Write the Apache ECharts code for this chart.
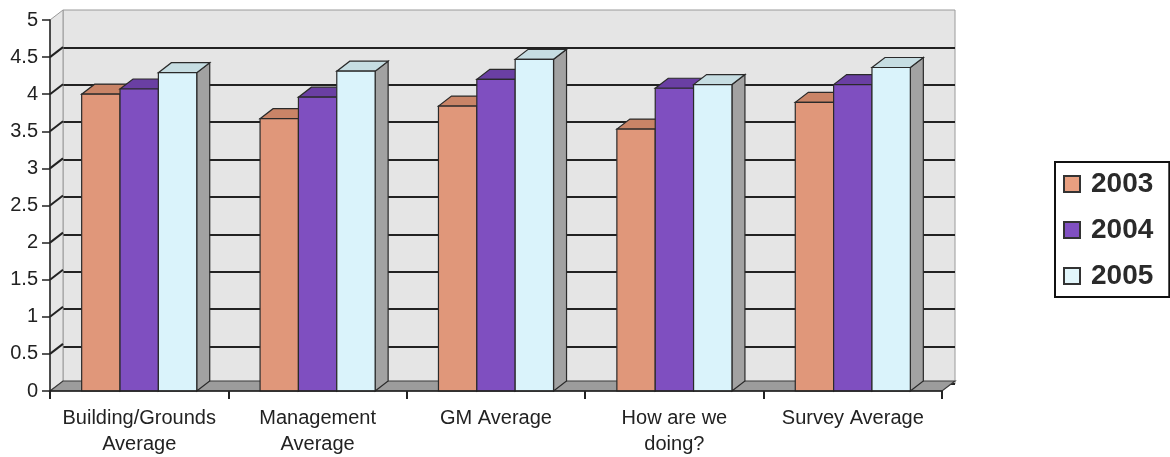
<!DOCTYPE html>
<html>
<head>
<meta charset="utf-8">
<script src="https://cdn.jsdelivr.net/npm/echarts@6.0.0/dist/echarts.min.js"></script>
<style>
  html, body { margin: 0; padding: 0; background: #fff; }
  #chart { width: 1170px; height: 457px; }
</style>
</head>
<body>
<div id="chart"></div>
<script>
// data
const categories = ['Building/Grounds\nAverage', 'Management\nAverage', 'GM Average', 'How are we\ndoing?', 'Survey Average'];
const years = ['2003', '2004', '2005'];
const values2003 = [4.0, 3.67, 3.84, 3.53, 3.89];
const values2004 = [4.07, 3.96, 4.2, 4.08, 4.13];
const values2005 = [4.29, 4.31, 4.47, 4.13, 4.36];
const yTicks = [0, 0.5, 1, 1.5, 2, 2.5, 3, 3.5, 4, 4.5, 5];

// 3d depth offset
const DX = 13;
const DY = -10;

const faces = [
  { front: '#e0977a', top: '#c98467', side: '#b77158', legend: '#e89f80' },
  { front: '#7f4fc0', top: '#6a3fa3', side: '#5a3290', legend: '#8150c2' },
  { front: '#daf3fb', top: '#c6dde2', side: '#a2a2a2', legend: '#e2f6fb' }
];

const seriesValues = [values2003, values2004, values2005];

function barRender(si) {
  return function (params, api) {
    const top = api.coord([api.value(0), api.value(1)]);
    const base = api.coord([api.value(0), 0]);
    const catW = api.size([1, 0])[0];
    const bw = catW * 0.215;
    const x0 = top[0] - 1.5 * bw + si * bw;
    const x1 = x0 + bw;
    const yt = top[1], yb = base[1];
    const f = faces[si];
    const ln = { stroke: '#2a2a2a', lineWidth: 1.2 };
    return {
      type: 'group',
      children: [
        { type: 'polygon', shape: { points: [[x1, yb], [x1, yt], [x1 + DX, yt + DY], [x1 + DX, yb + DY]] },
          style: Object.assign({ fill: f.side }, ln) },
        { type: 'polygon', shape: { points: [[x0, yt], [x1, yt], [x1 + DX, yt + DY], [x0 + DX, yt + DY]] },
          style: Object.assign({ fill: f.top }, ln) },
        { type: 'rect', shape: { x: x0, y: yt, width: bw, height: yb - yt },
          style: Object.assign({ fill: f.front }, ln) }
      ]
    };
  };
}

// side wall + floor, drawn from the front axis scale
function wallRender(params, api) {
  const v = api.value(1);
  const catW = api.size([1, 0])[0];
  const p = api.coord([0, v]);
  const xl = p[0] - catW / 2;
  const children = [];
  if (params.dataIndex === 0) {
    const b = api.coord([0, 0]);
    const t = api.coord([0, yTicks[yTicks.length - 1]]);
    const xr = api.coord([categories.length - 1, 0])[0] + catW / 2;
    children.push({ type: 'polygon', z2: 0,
      shape: { points: [[xl, b[1]], [xl, t[1]], [xl + DX, t[1] + DY], [xl + DX, b[1] + DY]] },
      style: { fill: '#e6e6e6', stroke: '#9a9a9a', lineWidth: 1 } });
    children.push({ type: 'polygon', z2: 5,
      shape: { points: [[xl, b[1]], [xr, b[1]], [xr + DX, b[1] + DY], [xl + DX, b[1] + DY]] },
      style: { fill: '#9c9c9c', stroke: '#3a3a3a', lineWidth: 1.2 } });
  }
  if (v > 0 && v < yTicks[yTicks.length - 1]) {
    children.push({ type: 'line', z2: 2,
      shape: { x1: xl, y1: p[1], x2: xl + DX, y2: p[1] + DY },
      style: { stroke: '#222', lineWidth: 2 } });
  }
  return { type: 'group', children: children };
}

const chart = echarts.init(document.getElementById('chart'));

const series = [
  {
    name: 'walls',
    type: 'custom',
    xAxisIndex: 0,
    yAxisIndex: 0,
    renderItem: wallRender,
    data: yTicks.map(t => [0, t]),
    encode: { x: 0, y: 1 },
    silent: true,
    z: 1
  }
];
years.forEach((y, si) => {
  series.push({
    name: y,
    type: 'custom',
    xAxisIndex: 0,
    yAxisIndex: 0,
    renderItem: barRender(si),
    itemStyle: { color: faces[si].legend, borderColor: '#333', borderWidth: 1.2 },
    data: seriesValues[si].map((v, i) => [i, v]),
    encode: { x: 0, y: 1 },
    clip: false,
    z: 3
  });
});

const option = {
  backgroundColor: '#fff',
  animation: false,
  textStyle: { fontFamily: 'Liberation Sans, Arial, sans-serif' },
  grid: [
    { left: 50, right: 228, top: 20, bottom: 63 },
    { left: 50 + DX, right: 228 - DX, top: 20 + DY, bottom: 63 - DY,
      show: true, backgroundColor: '#e5e5e5', borderColor: '#9a9a9a', borderWidth: 1, z: 0 }
  ],
  legend: {
    data: years,
    orient: 'vertical',
    left: 1055,
    top: 162,
    padding: [8, 16, 7, 8],
    itemGap: 18,
    itemWidth: 16,
    itemHeight: 16,
    icon: 'rect',
    borderColor: '#111',
    borderWidth: 2,
    textStyle: { fontSize: 28, fontWeight: 'bold', color: '#2a2a2a', padding: [0, 0, 0, 6],
      fontFamily: 'Liberation Sans, Arial, sans-serif' }
  },
  xAxis: [
    {
      type: 'category',
      gridIndex: 0,
      data: categories,
      axisLine: { lineStyle: { color: '#222', width: 1.5 } },
      axisTick: { show: true, length: 8, lineStyle: { color: '#222', width: 2 } },
      axisLabel: { color: '#222', fontSize: 20, lineHeight: 26, margin: 14, interval: 0 },
      z: 6
    },
    {
      type: 'category',
      gridIndex: 1,
      data: categories,
      show: false
    }
  ],
  yAxis: [
    {
      type: 'value',
      gridIndex: 0,
      min: 0,
      max: 5,
      interval: 0.5,
      axisLine: { show: true, lineStyle: { color: '#222', width: 1.5 } },
      axisTick: { show: true, length: 8, lineStyle: { color: '#222', width: 1.5 } },
      axisLabel: { color: '#222', fontSize: 20, margin: 12 },
      splitLine: { show: false },
      z: 6
    },
    {
      type: 'value',
      gridIndex: 1,
      min: 0,
      max: 5,
      interval: 0.5,
      axisLine: { show: false },
      axisTick: { show: false },
      axisLabel: { show: false },
      splitLine: { show: true, showMaxLine: false, lineStyle: { color: '#222', width: 2 } }
    }
  ],
  series: series
};

chart.setOption(option);
window.addEventListener('resize', () => {
  chart.resize();
});
</script>
</body>
</html>
